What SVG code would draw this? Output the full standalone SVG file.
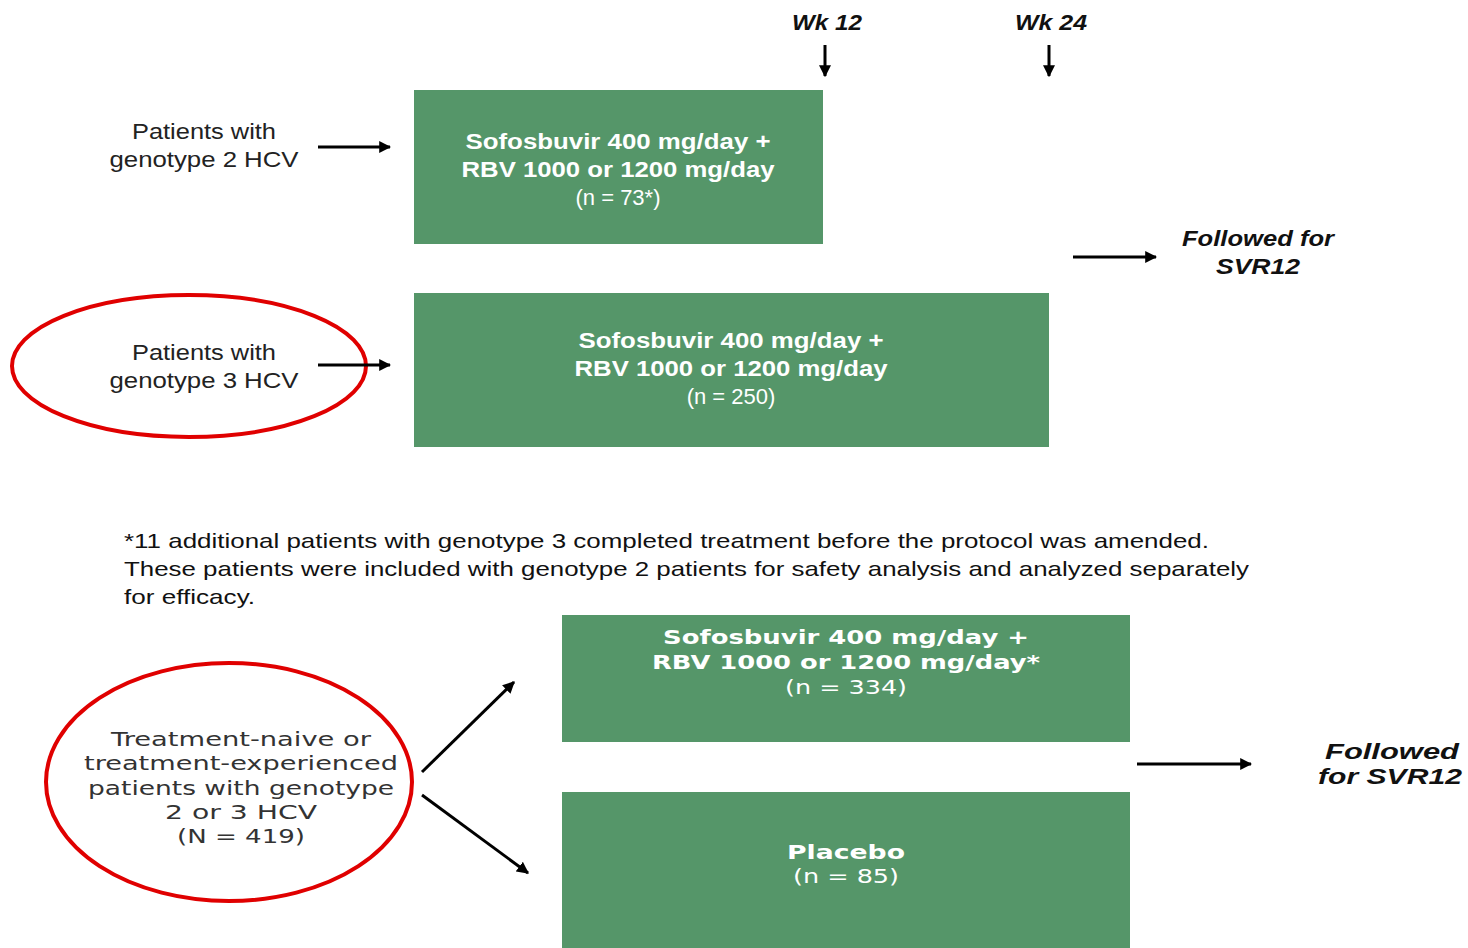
<svg xmlns="http://www.w3.org/2000/svg" width="1468" height="948" viewBox="0 0 1468 948">
<defs>
<marker id="ah" viewBox="0 0 10 10" refX="9" refY="5" markerWidth="4" markerHeight="4" orient="auto" markerUnits="strokeWidth">
<path d="M0,0 L10,5 L0,10 z" fill="#000"/>
</marker>
<style>
.box{fill:#559669;}
.bt{font-family:"Liberation Sans",Arial,sans-serif;font-size:22px;font-weight:bold;fill:#fff;text-anchor:middle;}
.bn{font-family:"Liberation Sans",Arial,sans-serif;font-size:22px;fill:#fff;text-anchor:middle;}
.wt{font-family:"DejaVu Sans",Verdana,sans-serif;font-size:20px;font-weight:bold;fill:#fff;text-anchor:middle;}
.wn{font-family:"DejaVu Sans",Verdana,sans-serif;font-size:20px;fill:#fff;text-anchor:middle;}
.lab{font-family:"Liberation Sans",Arial,sans-serif;font-size:22px;fill:#222;text-anchor:middle;}
.wlab{font-family:"DejaVu Sans",Verdana,sans-serif;font-size:20px;fill:#333;text-anchor:middle;}
.it{font-family:"Liberation Sans",Arial,sans-serif;font-size:22px;font-weight:bold;font-style:italic;fill:#111;text-anchor:middle;}
.foot{font-family:"Liberation Sans Narrow","Liberation Sans",Arial,sans-serif;font-size:21px;fill:#111;}
.conn{stroke:#000;stroke-width:3;fill:none;marker-end:url(#ah);}
.ring{fill:none;stroke:#e00000;stroke-width:4;}
</style>
</defs>

<g id="wk12">
<text class="it" x="827" y="30" textLength="70" lengthAdjust="spacingAndGlyphs">Wk 12</text>
</g>
<g id="wk24">
<text class="it" x="1051" y="30" textLength="72" lengthAdjust="spacingAndGlyphs">Wk 24</text>
</g>

<g id="g2label">
<text class="lab" x="204" y="139" textLength="144" lengthAdjust="spacingAndGlyphs">Patients with</text>
<text class="lab" x="204" y="167" textLength="189" lengthAdjust="spacingAndGlyphs">genotype 2 HCV</text>
</g>

<g id="box1">
<rect class="box" x="414" y="90" width="409" height="154"/>
<text class="bt" x="618" y="149" textLength="305" lengthAdjust="spacingAndGlyphs">Sofosbuvir 400 mg/day +</text>
<text class="bt" x="618" y="177" textLength="313" lengthAdjust="spacingAndGlyphs">RBV 1000 or 1200 mg/day</text>
<text class="bn" x="618" y="205">(n = 73*)</text>
</g>

<g id="follow1">
<text class="it" x="1258" y="246" textLength="152" lengthAdjust="spacingAndGlyphs">Followed for</text>
<text class="it" x="1258" y="274" textLength="84" lengthAdjust="spacingAndGlyphs">SVR12</text>
</g>

<g id="g3label">
<ellipse class="ring" cx="189" cy="366" rx="177" ry="71"/>
<text class="lab" x="204" y="360" textLength="144" lengthAdjust="spacingAndGlyphs">Patients with</text>
<text class="lab" x="204" y="388" textLength="189" lengthAdjust="spacingAndGlyphs">genotype 3 HCV</text>
</g>

<g id="box2">
<rect class="box" x="414" y="293" width="635" height="154"/>
<text class="bt" x="731" y="348" textLength="305" lengthAdjust="spacingAndGlyphs">Sofosbuvir 400 mg/day +</text>
<text class="bt" x="731" y="376" textLength="313" lengthAdjust="spacingAndGlyphs">RBV 1000 or 1200 mg/day</text>
<text class="bn" x="731" y="404">(n = 250)</text>
</g>

<g id="footnote">
<text class="foot" x="124" y="548" textLength="1085" lengthAdjust="spacingAndGlyphs">*11 additional patients with genotype 3 completed treatment before the protocol was amended.</text>
<text class="foot" x="124" y="576" textLength="1125" lengthAdjust="spacingAndGlyphs">These patients were included with genotype 2 patients for safety analysis and analyzed separately</text>
<text class="foot" x="124" y="604" textLength="131" lengthAdjust="spacingAndGlyphs">for efficacy.</text>
</g>

<g id="population">
<ellipse class="ring" cx="229" cy="782" rx="183" ry="119"/>
<text class="wlab" x="241" y="746" textLength="260" lengthAdjust="spacingAndGlyphs">Treatment-naive or</text>
<text class="wlab" x="241" y="770" textLength="314" lengthAdjust="spacingAndGlyphs">treatment-experienced</text>
<text class="wlab" x="241" y="795" textLength="306" lengthAdjust="spacingAndGlyphs">patients with genotype</text>
<text class="wlab" x="241" y="819" textLength="152" lengthAdjust="spacingAndGlyphs">2 or 3 HCV</text>
<text class="wlab" x="241" y="843" textLength="128" lengthAdjust="spacingAndGlyphs">(N = 419)</text>
</g>

<g id="box3">
<rect class="box" x="562" y="615" width="568" height="127"/>
<text class="wt" x="846" y="644" textLength="366" lengthAdjust="spacingAndGlyphs">Sofosbuvir 400 mg/day +</text>
<text class="wt" x="846" y="669" textLength="388" lengthAdjust="spacingAndGlyphs">RBV 1000 or 1200 mg/day*</text>
<text class="wn" x="846" y="694" textLength="122" lengthAdjust="spacingAndGlyphs">(n = 334)</text>
</g>

<g id="box4">
<rect class="box" x="562" y="792" width="568" height="160"/>
<text class="wt" x="846" y="859" textLength="118" lengthAdjust="spacingAndGlyphs">Placebo</text>
<text class="wn" x="846" y="883" textLength="106" lengthAdjust="spacingAndGlyphs">(n = 85)</text>
</g>

<g id="follow2">
<text class="it" x="1392" y="759" textLength="134" lengthAdjust="spacingAndGlyphs">Followed</text>
<text class="it" x="1390" y="784" textLength="144" lengthAdjust="spacingAndGlyphs">for SVR12</text>
</g>

<g id="connectors">
<line class="conn" x1="825" y1="45" x2="825" y2="76"/>
<line class="conn" x1="1049" y1="45" x2="1049" y2="76"/>
<line class="conn" x1="318" y1="147" x2="390" y2="147"/>
<line class="conn" x1="318" y1="365" x2="390" y2="365"/>
<line class="conn" x1="1073" y1="257" x2="1156" y2="257"/>
<line class="conn" x1="422" y1="772" x2="514" y2="682"/>
<line class="conn" x1="422" y1="795" x2="528" y2="873"/>
<line class="conn" x1="1137" y1="764" x2="1251" y2="764"/>
</g>
</svg>
